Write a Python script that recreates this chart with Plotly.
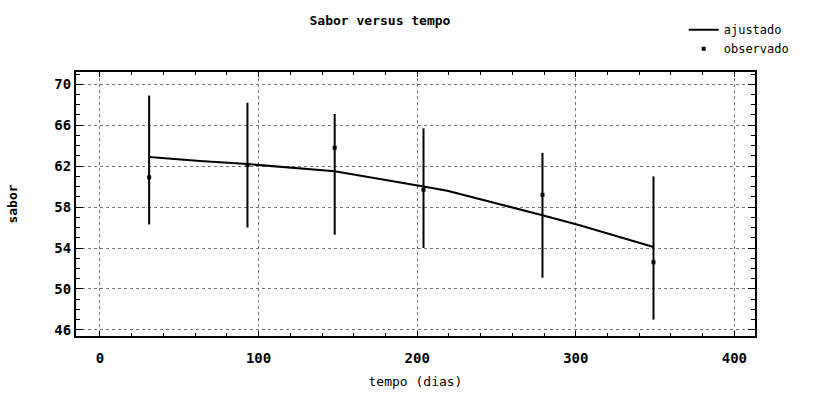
import plotly.graph_objects as go

# Observed data (days, observed flavour score, upper and lower ends of the vertical bars)
dias_obs = [31, 93, 148, 204, 279, 349]
sabor_obs = [60.9, 62.1, 63.8, 59.7, 59.2, 52.6]
sabor_sup = [68.9, 68.2, 67.1, 65.7, 63.3, 61.0]
sabor_inf = [56.3, 56.0, 55.3, 54.0, 51.1, 47.0]

# Fitted curve
dias_aj = [31, 63, 93, 148, 204, 219, 279, 303, 349]
sabor_aj = [62.9, 62.5, 62.2, 61.5, 60.0, 59.6, 57.2, 56.2, 54.1]

x_ticks = [0, 100, 200, 300, 400]
y_ticks = [46, 50, 54, 58, 62, 66, 70]

FONT = "DejaVu Sans Mono"

err_plus = [s - o for s, o in zip(sabor_sup, sabor_obs)]
err_minus = [o - i for o, i in zip(sabor_obs, sabor_inf)]

fig = go.Figure()
fig.add_trace(go.Scatter(
    x=dias_aj, y=sabor_aj, mode="lines", name="ajustado",
    line=dict(color="black", width=2),
))
fig.add_trace(go.Scatter(
    x=dias_obs, y=sabor_obs, mode="markers", name="observado",
    marker=dict(color="black", size=4, symbol="square"),
    error_y=dict(type="data", symmetric=False, array=err_plus, arrayminus=err_minus,
                 color="black", thickness=2, width=0),
))

fig.update_layout(
    width=830, height=405,
    paper_bgcolor="white", plot_bgcolor="white",
    margin=dict(l=76, r=75, t=72, b=69),
    font=dict(family=FONT, color="black", size=13),
    title=dict(text="Sabor versus tempo", x=380/830, xanchor="center", y=1-20/405, yanchor="middle",
               font=dict(family=FONT, size=13, weight="bold")),
    legend=dict(x=0.895, y=1.215, xanchor="left", yanchor="top", bgcolor="rgba(0,0,0,0)",
                font=dict(family=FONT, size=12), tracegroupgap=0, itemwidth=30),
    showlegend=True,
)
fig.update_xaxes(
    range=[-15.1, 413], tickvals=x_ticks, ticktext=[str(v) for v in x_ticks],
    showline=True, linecolor="black", linewidth=2, mirror="allticks",
    ticks="inside", ticklen=5, tickcolor="black",
    minor=dict(dtick=20, ticks="inside", ticklen=3, tickcolor="black", showgrid=False),
    showgrid=True, gridcolor="#777", griddash="dot", gridwidth=1,
    zeroline=False, ticklabelstandoff=8,
    tickfont=dict(family=FONT, size=14, weight="bold"),
    title=dict(text="tempo (dias)", standoff=12, font=dict(family=FONT, size=13)),
)
fig.update_yaxes(
    range=[45.4, 71.2], tickvals=y_ticks, ticktext=[str(v) for v in y_ticks],
    showline=True, linecolor="black", linewidth=2, mirror="allticks",
    ticks="inside", ticklen=7, tickcolor="black",
    minor=dict(dtick=1, ticks="inside", ticklen=4, tickcolor="black", showgrid=False),
    showgrid=True, gridcolor="#777", griddash="dot", gridwidth=1,
    zeroline=False,
    tickfont=dict(family=FONT, size=14, weight="bold"),
    title=dict(text="sabor", standoff=34, font=dict(family=FONT, size=13, weight="bold")),
)

fig.write_html("out.html")
